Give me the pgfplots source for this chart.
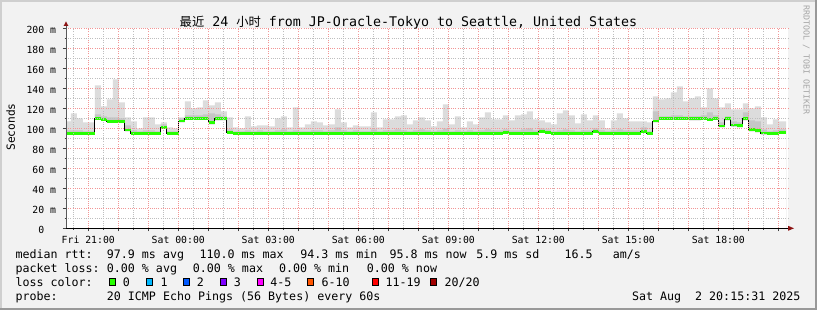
\documentclass[border=0pt]{standalone}
\usepackage{pgfplots}
\pgfplotsset{compat=1.18}
\usepackage{pgfplotstable}
\usepackage{fontspec}
\setmainfont{DejaVu Sans Mono}
\newfontfamily\cjk{Noto Sans CJK SC}
\definecolor{bg}{RGB}{242,242,242}
\definecolor{shadeA}{RGB}{207,207,207}
\definecolor{shadeB}{RGB}{153,153,153}
\definecolor{smokeL}{RGB}{220,220,220}
\definecolor{smokeD}{RGB}{198,198,198}
\definecolor{lossgreen}{RGB}{38,255,0}
\definecolor{majgrid}{RGB}{242,150,150}
\definecolor{mingrid}{RGB}{190,190,190}
\definecolor{arrowred}{RGB}{140,20,20}
\definecolor{lc0}{HTML}{26FF00}
\definecolor{lc1}{HTML}{00B8FF}
\definecolor{lc2}{HTML}{0059FF}
\definecolor{lc3}{HTML}{7E00FF}
\definecolor{lc4}{HTML}{FF00FF}
\definecolor{lc5}{HTML}{FF5500}
\definecolor{lc6}{HTML}{FF0000}
\definecolor{lc7}{HTML}{A10000}

\pgfplotstableread{
t max dark med low
-0.743 107 98 94.8 93.3
-0.58 115 98 94.8 93.3
-0.38 110 98 94.8 93.3
-0.18 106 97 94.8 93.3
0.02 106 97 94.8 93.3
0.22 143 114 109.7 108.2
0.42 122 112 108.6 107.1
0.62 129 111 107.0 105.5
0.82 149 111 107.0 105.5
1.02 126 110 107.0 105.5
1.22 111 103 98.3 96.8
1.42 107 98 94.8 93.3
1.62 100 97 94.8 93.3
1.82 111 98 94.8 93.3
2.02 111 98 94.8 93.3
2.22 104 97 94.8 93.3
2.42 106 104 101.0 99.5
2.62 101 97 94.8 93.3
2.82 100 97 94.8 93.3
3.02 111 110 107.3 105.8
3.22 127 113 110.0 108.5
3.42 120 113 110.0 108.5
3.62 121 113 110.0 108.5
3.82 128 114 110.0 108.5
4.02 123 115 105.5 104.0
4.22 126 114 109.5 108.0
4.42 117 112 109.5 108.0
4.62 111 99 95.8 94.3
4.82 101 97 94.8 93.3
5.02 100 97 94.8 93.3
5.22 112 98 94.8 93.3
5.42 102 97 94.8 93.3
5.62 103 98 94.8 93.3
5.82 103 97 94.8 93.3
6.02 102 97 94.8 93.3
6.22 110 98 94.8 93.3
6.42 112 99 94.8 93.3
6.62 101 97 94.8 93.3
6.82 121 98 94.8 93.3
7.02 101 97 94.8 93.3
7.22 104 97 94.8 93.3
7.42 107 98 94.8 93.3
7.62 106 98 94.8 93.3
7.82 103 97 94.8 93.3
8.02 104 98 94.8 93.3
8.22 119 101 94.8 93.3
8.42 106 98 94.8 93.3
8.62 101 97 94.8 93.3
8.82 103 98 94.8 93.3
9.02 102 97 94.8 93.3
9.22 102 97 94.8 93.3
9.42 116 99 94.8 93.3
9.62 101 97 94.8 93.3
9.82 109 98 94.8 93.3
10.02 109 98 94.8 93.3
10.22 112 99 94.8 93.3
10.42 113 98 94.8 93.3
10.62 104 97 94.8 93.3
10.82 108 98 94.8 93.3
11.02 111 99 94.8 93.3
11.22 108 98 94.8 93.3
11.42 102 97 94.8 93.3
11.62 107 98 94.8 93.3
11.82 124 100 94.8 93.3
12.02 104 97 94.8 93.3
12.22 112 98 94.8 93.3
12.42 101 97 94.8 93.3
12.62 107 98 94.8 93.3
12.82 104 97 94.8 93.3
13.02 111 98 94.8 93.3
13.22 116 99 94.8 93.3
13.42 109 98 94.8 93.3
13.62 109 98 94.8 93.3
13.82 113 99 95.8 94.3
14.02 108 98 94.8 93.3
14.22 113 98 94.8 93.3
14.42 114 99 94.8 93.3
14.62 117 100 94.8 93.3
14.82 109 98 94.8 93.3
15.02 108 100 97.0 95.5
15.22 106 99 96.0 94.5
15.42 104 97 94.8 93.3
15.62 115 98 94.8 93.3
15.82 118 99 94.8 93.3
16.02 113 98 94.8 93.3
16.22 105 97 94.8 93.3
16.42 114 98 94.8 93.3
16.62 108 98 94.8 93.3
16.82 113 100 97.0 95.5
17.02 108 98 94.8 93.3
17.22 100 97 94.8 93.3
17.42 108 98 94.8 93.3
17.62 115 99 94.8 93.3
17.82 110 98 94.8 93.3
18.02 107 98 94.8 93.3
18.22 107 98 94.8 93.3
18.42 107 101 97.0 95.5
18.62 106 97 94.8 93.3
18.82 132 117 107.3 105.8
19.02 129 112 110.0 108.5
19.22 130 112 110.0 108.5
19.42 136 113 110.0 108.5
19.62 142 113 110.0 108.5
19.82 127 112 110.0 108.5
20.02 130 112 109.5 108.0
20.22 132 112 109.5 108.0
20.42 121 113 110.0 108.5
20.62 140 116 109.0 107.5
20.82 130 113 110.0 108.5
21.02 121 106 102.3 100.8
21.22 125 112 109.5 108.0
21.42 119 107 103.2 101.7
21.62 119 106 102.5 101.0
21.82 125 116 109.5 108.0
22.02 120 108 98.5 97.0
22.22 122 107 97.5 96.0
22.42 111 99 95.2 93.7
22.62 104 97 94.6 93.1
22.82 109 98 94.6 93.1
23.02 107 99 96.0 94.5
23.22 107 99 96.0 94.5
23.257 107 99 96.0 94.5
}\smoke

\newcommand\lgd[3]{\node[anchor=base west,inner sep=0pt] at (#1,#2) {#3};}
\newcommand\lbox[2]{\filldraw[fill=#2,draw=black,line width=1pt] (#1+0.5,24.5) rectangle (#1+6.8,31.8);}

\begin{document}
\begin{tikzpicture}[x=1pt,y=1pt]
\useasboundingbox (0,0) rectangle (817,310);
\fill[bg] (0,0) rectangle (817,310);
\fill[shadeA] (0,0) rectangle (2,310);
\fill[shadeA] (0,308) rectangle (817,310);
\fill[shadeB] (815,0) rectangle (817,310);
\fill[shadeB] (0,0) rectangle (817,2);

\begin{axis}[
  at={(66pt,81.7pt)}, anchor=south west,
  scale only axis, width=722pt, height=200pt,
  xmin=-0.743, xmax=23.323, ymin=0, ymax=200,
  axis background/.style={fill=white},
  axis on top,
  axis x line*=bottom, axis y line*=left,
  x axis line style={black, line width=0.8pt},
  y axis line style={black!65, line width=0.8pt},
  xtick={0,1,...,23},
  xticklabels={Fri 21:00,,,Sat 00:00,,,Sat 03:00,,,Sat 06:00,,,Sat 09:00,,,Sat 12:00,,,Sat 15:00,,,Sat 18:00,,},
  minor xtick={-0.5,0.5,...,22.5},
  ytick={0,20,...,200},
  yticklabels={0\phantom{0m},20 m,40 m,60 m,80 m,100 m,120 m,140 m,160 m,180 m,200 m},
  minor ytick={10,30,...,190},
  grid=both,
  major grid style={color=majgrid, line width=0.7pt, dash pattern=on 1pt off 1.2pt},
  minor grid style={color=mingrid, line width=0.7pt, dash pattern=on 1pt off 1.2pt},
  tick align=outside,
  major tick length=3pt, minor tick length=1.5pt,
  tick style={black!75, line width=0.6pt},
  tick label style={font=\fontsize{9.8}{11}\selectfont, inner sep=0pt},
  xticklabel style={anchor=base, yshift=-12.4pt},
  yticklabel style={anchor=east, xshift=-6.7pt, yshift=-1.5pt},
]
\addplot[const plot, draw=none, fill=smokeL] table[x=t,y=max]{\smoke} \closedcycle;
\addplot[const plot, draw=none, fill=smokeD] table[x=t,y=dark]{\smoke} \closedcycle;
\addplot[const plot, draw=none, fill=white] table[x=t,y=low]{\smoke} \closedcycle;
\addplot[const plot, draw=black, line width=0.9pt] table[x=t,y=med]{\smoke};
\addplot[jump mark left, draw=lossgreen, line width=2.6pt] table[x=t,y=med]{\smoke};
\end{axis}

% axis arrows
\draw[black!65, line width=0.8pt] (66,281.7) -- (66,284.5);
\fill[arrowred] (63.6,284) -- (66,288.5) -- (68.4,284) -- cycle;
\fill[arrowred] (788,84.2) -- (794,81.7) -- (788,79.2) -- cycle;

% title
\node[anchor=base west, inner sep=0pt, font=\fontsize{13.3}{15}\selectfont] at (179.5,283.4)
  {{\cjk\fontsize{12.3}{15}\selectfont 最近} 24 {\cjk\fontsize{12.3}{15}\selectfont 小时} from JP-Oracle-Tokyo to Seattle, United States};
% y label
\node[rotate=90, anchor=base, inner sep=0pt, font=\fontsize{11.2}{13}\selectfont] at (15,183) {Seconds};
% watermark
\node[rotate=-90, anchor=base, inner sep=0pt, text=black!35, font=\fontsize{8.3}{10}\selectfont] at (803.5,250) {RRDTOOL / TOBI OETIKER};

% legend
\begin{scope}[font=\fontsize{11.65}{14}\selectfont]
\lgd{15.4}{51.7}{median rtt:}
\lgd{106.7}{51.7}{97.9 ms avg}
\lgd{199.4}{51.7}{110.0 ms max}
\lgd{300.1}{51.7}{94.3 ms min}
\lgd{389.4}{51.7}{95.8 ms now}
\lgd{476.1}{51.7}{5.9 ms sd}
\lgd{564.4}{51.7}{16.5}
\lgd{612.7}{51.7}{am/s}

\lgd{15.4}{37.7}{packet loss:}
\lgd{106.7}{37.7}{0.00 \% avg}
\lgd{192.7}{37.7}{0.00 \% max}
\lgd{278.9}{37.7}{0.00 \% min}
\lgd{366.7}{37.7}{0.00 \% now}

\lgd{15.4}{23.7}{loss color:}
\lbox{108.5}{lc0}\lgd{122.6}{23.7}{0}
\lbox{145.5}{lc1}\lgd{160.4}{23.7}{1}
\lbox{182.5}{lc2}\lgd{196.7}{23.7}{2}
\lbox{219.5}{lc3}\lgd{233.7}{23.7}{3}
\lbox{256.5}{lc4}\lgd{270.1}{23.7}{4-5}
\lbox{306.8}{lc5}\lgd{321.4}{23.7}{6-10}
\lbox{371.5}{lc6}\lgd{385.4}{23.7}{11-19}
\lbox{430.1}{lc7}\lgd{444.4}{23.7}{20/20}

\lgd{15.4}{9.7}{probe:}
\lgd{106.7}{9.7}{20 ICMP Echo Pings (56 Bytes) every 60s}
\node[anchor=base east, inner sep=0pt] at (800.6,9.7) {Sat Aug~~2 20:15:31 2025};
\end{scope}
\end{tikzpicture}
\end{document}
